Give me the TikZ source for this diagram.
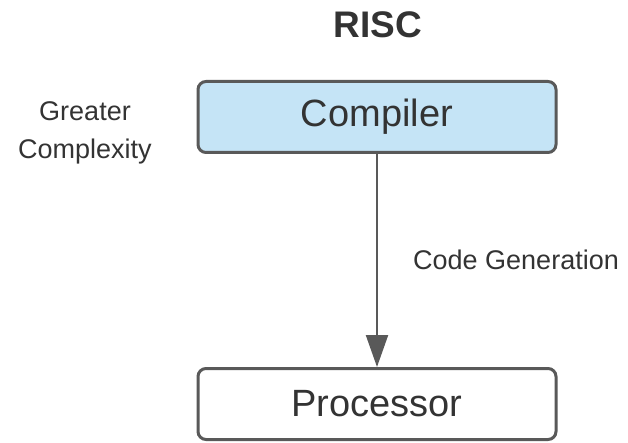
\documentclass[tikz,border=0pt]{standalone}
\usepackage{fontspec}
\setmainfont{Liberation Sans}
\usetikzlibrary{arrows.meta}
\definecolor{edge}{HTML}{595959}
\definecolor{txt}{HTML}{333333}
\definecolor{lblue}{HTML}{C5E4F6}
\begin{document}
\begin{tikzpicture}[x=1pt,y=-1pt,
  box/.style={draw=edge,line width=3pt,rounded corners=8pt,minimum width=358pt,minimum height=71pt,inner sep=0pt,text=txt,font=\fontsize{38}{44}\selectfont},
  lbl/.style={text=txt,font=\fontsize{27}{38}\selectfont,inner sep=0pt}]
\useasboundingbox (0,0) rectangle (628,443);
\node[text=txt,font=\fontsize{37}{44}\selectfont\bfseries,inner sep=0pt] (title) at (378,25) {RISC};
\node[box,fill=lblue] (comp) at (377,117) {Compiler};
\node[box,fill=white] (proc) at (377,404) {Processor};
\node[lbl,align=center] (gc) at (85,133) {Greater\\Complexity};
\node[lbl,anchor=west] (cg) at (413,260) {Code Generation};
\draw[edge,line width=2.2pt,-{Triangle[length=32pt,width=22pt]}] (comp.south) -- (proc.north);
\end{tikzpicture}
\end{document}
